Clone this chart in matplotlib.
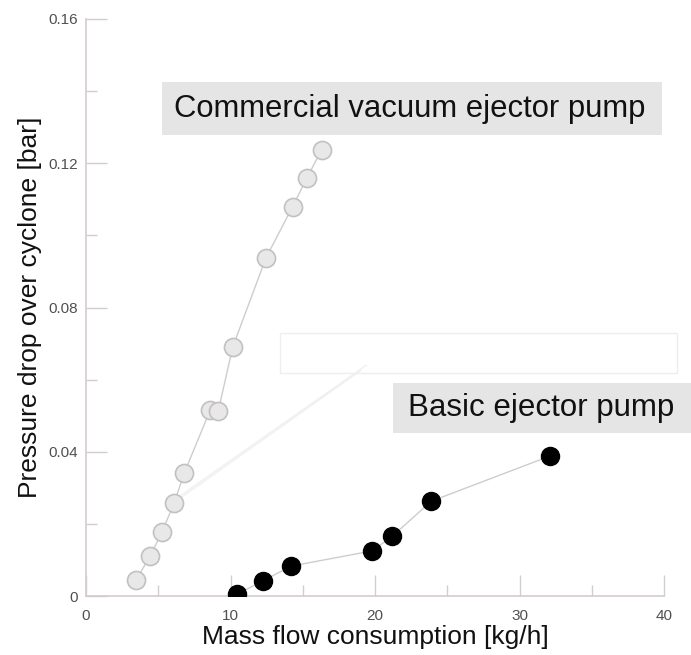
import matplotlib
matplotlib.use("Agg")
import matplotlib.pyplot as plt
from matplotlib.patches import Rectangle

plt.rcParams['font.family'] = ['Liberation Sans', 'DejaVu Sans']

# Data
commercial_x = [3.45, 4.45, 5.25, 6.1, 6.8, 8.6, 9.15, 10.15, 12.45, 14.3, 15.3, 16.3]
commercial_y = [0.0044, 0.0111, 0.0177, 0.0258, 0.0341, 0.0516, 0.0512, 0.0690, 0.0937, 0.108, 0.116, 0.1237]
basic_x = [10.45, 12.25, 14.2, 19.8, 21.2, 23.9, 32.1]
basic_y = [0.0005, 0.0042, 0.0083, 0.0125, 0.0166, 0.0263, 0.0388]

x_ticks = [0, 10, 20, 30, 40]
x_tick_labels = ["0", "10", "20", "30", "40"]
y_ticks = [0, 0.04, 0.08, 0.12, 0.16]
y_tick_labels = ["0", "0.04", "0.08", "0.12", "0.16"]

x_label = "Mass flow consumption [kg/h]"
y_label = "Pressure drop over cyclone [bar]"
label_commercial = "Commercial vacuum ejector pump"
label_basic = "Basic ejector pump"

fig = plt.figure(figsize=(6.91, 6.55), dpi=100)
ax = fig.add_axes([86/691, 1-596/655, (664-86)/691, (596-19)/655])

ax.plot(commercial_x, commercial_y, '-', color='#d0cccc', lw=1.0, zorder=2)
ax.plot(commercial_x, commercial_y, 'o', ms=13, mfc='#e8e8e8', mec='#c4c0c0', mew=1.2, zorder=3)
ax.plot(basic_x, basic_y, '-', color='#d0cccc', lw=1.0, zorder=2)
ax.plot(basic_x, basic_y, 'o', ms=13, mfc='black', mec='black', mew=1.0, zorder=3)

ax.set_xlim(0, 40)
ax.set_ylim(0, 0.16)
ax.set_xticks(x_ticks)
ax.set_xticklabels(x_tick_labels)
ax.set_yticks(y_ticks)
ax.set_yticklabels(y_tick_labels)
ax.set_xticks([5, 15, 25, 35], minor=True)
ax.set_yticks([0.02, 0.06, 0.10, 0.14], minor=True)

spine_col = '#d4cccc'
for s in ['top', 'right']:
    ax.spines[s].set_visible(False)
for s in ['left', 'bottom']:
    ax.spines[s].set_color(spine_col)
    ax.spines[s].set_linewidth(1.2)

ax.tick_params(which='major', direction='in', length=15, width=1.0, color=spine_col,
               labelsize=11, labelcolor='#505050')
ax.tick_params(which='minor', direction='in', length=8, width=1.0, color=spine_col)
ax.tick_params(axis='x', which='major', pad=9)
ax.tick_params(axis='y', which='major', pad=6)

ax.set_xlabel(x_label, fontsize=19, color='#111111', labelpad=2)
ax.set_ylabel(y_label, fontsize=19, color='#111111', labelpad=4)

# faint annotation box and lines
ax.add_patch(Rectangle((13.4, 0.0617), 40.9 - 13.4, 0.0113, transform=ax.transData,
                       facecolor='white', edgecolor='#eeeeee', lw=1.0, zorder=1, clip_on=False))
ax.plot([6.6, 19.4], [0.0280, 0.0640], color='#f0f0f0', lw=1.0, zorder=1)
ax.plot([6.3, 19.0], [0.0265, 0.0625], color='#f0f0f0', lw=1.0, zorder=1)

# label boxes
ax.add_patch(Rectangle((5.26, 0.1278), 39.86 - 5.26, 0.1425 - 0.1278, transform=ax.transData,
                       facecolor='#e5e5e5', edgecolor='none', zorder=4, clip_on=False))
ax.text(6.1, 0.1350, label_commercial, fontsize=22.3, color='#111111', ha='left', va='center',
        zorder=5)
ax.add_patch(Rectangle((21.25, 0.0452), 41.9 - 21.25, 0.0591 - 0.0452, transform=ax.transData,
                       facecolor='#e5e5e5', edgecolor='none', zorder=4, clip_on=False))
ax.text(22.3, 0.0520, label_basic, fontsize=22.5, color='#111111', ha='left', va='center',
        zorder=5, clip_on=False)

fig.savefig("out.png", dpi=100, facecolor='white')
